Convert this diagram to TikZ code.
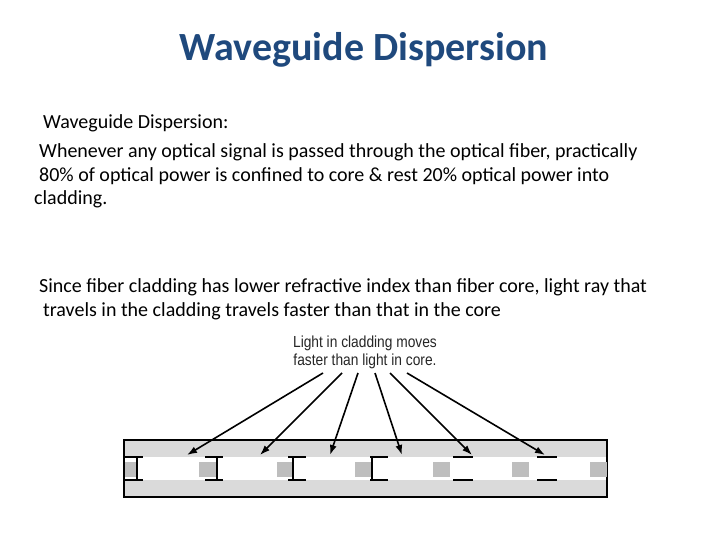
\documentclass[tikz,border=0pt]{standalone}
\usepackage{fontspec}
\setmainfont{Carlito}
\newfontfamily\figfont{Liberation Sans}
\usetikzlibrary{positioning, arrows.meta}
\definecolor{titleblue}{RGB}{31,73,125}
\definecolor{cladgray}{RGB}{218,218,218}
\definecolor{pulsegray}{RGB}{190,190,190}
\tikzset{body/.style={anchor=base west, inner sep=0pt, font=\fontsize{20}{24}\selectfont},
line/.style={-{Latex[length=10pt,width=7pt]}, line width=1.6pt},
tick/.style={line width=1.2pt}
}
\begin{document}
\begin{tikzpicture}[x=1pt,y=-1pt]
\useasboundingbox (0,0) rectangle (720,540);
\node[font=\bfseries\fontsize{40}{48}\selectfont, text=titleblue] (title) at (364,50) {Waveguide Dispersion};

\node[body] (t1) at (43,129) {Waveguide Dispersion:};
\node[body] (t2) at (39,158) {Whenever any optical signal is passed through the optical fiber, practically};
\node[body] (t3) at (39,182) {80\% of optical power is confined to core \& rest 20\% optical power into};
\node[body] (t4) at (34,205) {cladding.};
\node[body] (t5) at (39,292) {Since fiber cladding has lower refractive index than fiber core, light ray that};
\node[body] (t6) at (43,316) {travels in the cladding travels faster than that in the core};

\node[font=\figfont\fontsize{16}{18}\selectfont, align=center, inner sep=1pt, xscale=0.86, text=black!85] (label) at (365,352) {Light in cladding moves\\faster than light in core.};

% fiber
\fill[cladgray] (124,440) rectangle (607,497);
\fill[white] (124,457) rectangle (607,480);
\draw[line width=1.2pt] (124,440) rectangle (607,497);
\foreach \x in {199,277,355,433,512,590}
  \fill[pulsegray] (\x,462) rectangle ++(17,15);
\fill[pulsegray] (125,462) rectangle (137,477);
\foreach \a/\v in {125/137,205/217,288/293,370/372}{
  \draw[tick] (\a,457) -- ++(18,0) (\a,480) -- ++(18,0);
  \draw[tick] (\v,457) -- (\v,480);}
\foreach \a in {453,537}
  \draw[tick] (\a,457) -- ++(20,0) (\a,480) -- ++(20,0);
\foreach \i/\s/\e in {1/323/187,2/342/260,3/358/330,4/375/402,5/390/472,6/407/545}{
  \coordinate (s\i) at (\s,373);
  \coordinate (e\i) at (\e,455);
  \draw[line] (s\i) -- (e\i);}
\end{tikzpicture}
\end{document}
